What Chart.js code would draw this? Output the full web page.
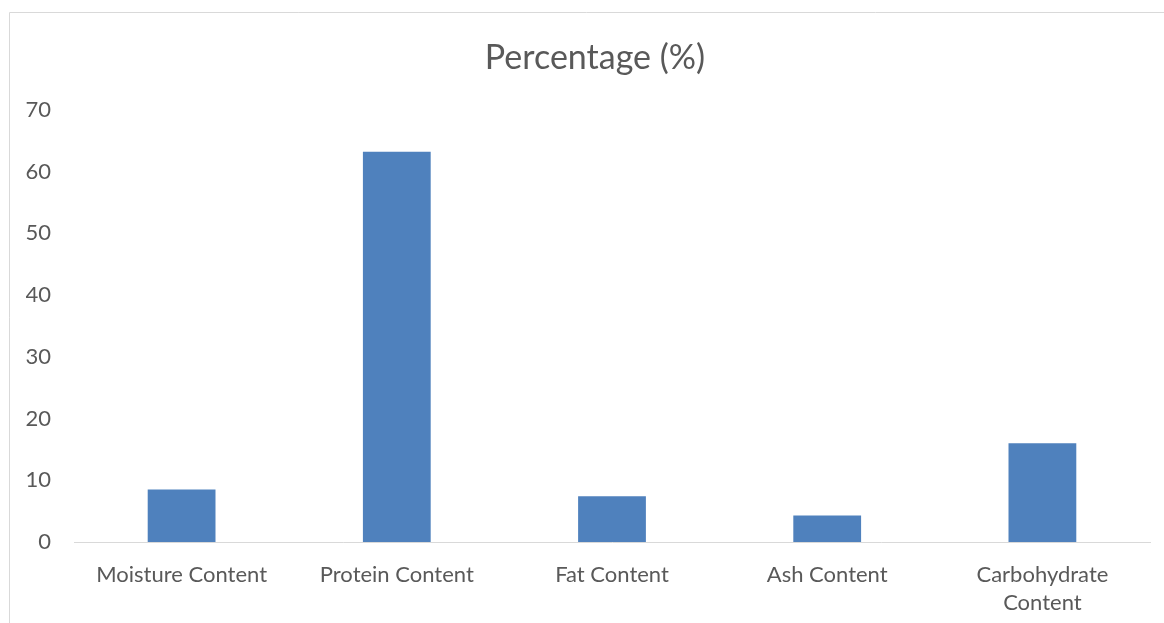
<!DOCTYPE html>
<html>
<head>
<meta charset="utf-8">
<script src="https://cdn.jsdelivr.net/npm/chart.js@4"></script>
<style>
html,body{margin:0;padding:0;background:#fff;}
#wrap{position:relative;width:1164px;height:623px;}
</style>
</head>
<body>
<div id="wrap"><canvas id="c" width="1164" height="623"></canvas></div>
<script>
const categories = ['Moisture Content', 'Protein Content', 'Fat Content', 'Ash Content', ['Carbohydrate', 'Content']];
const percentages = [8.5, 63.2, 7.4, 4.3, 16.0];
const yTicks = [0, 10, 20, 30, 40, 50, 60, 70];
const titleText = 'Percentage (%)';

const textColor = '#595959';
const fontFamily = 'Lato, Carlito, Calibri, sans-serif';

const outerBorder = {
  id: 'outerBorder',
  beforeDraw(chart) {
    const ctx = chart.ctx;
    ctx.save();
    ctx.strokeStyle = '#d9d9d9';
    ctx.lineWidth = 1;
    ctx.beginPath();
    ctx.moveTo(9.5, chart.height);
    ctx.lineTo(9.5, 12.5);
    ctx.lineTo(chart.width, 12.5);
    ctx.stroke();
    ctx.restore();
  }
};

function draw() {
  new Chart(document.getElementById('c'), {
    type: 'bar',
    data: {
      labels: categories,
      datasets: [{
        label: titleText,
        data: percentages,
        backgroundColor: '#4f81bd',
        borderWidth: 0,
        barPercentage: 0.315,
        categoryPercentage: 1
      }]
    },
    options: {
      responsive: false,
      animation: false,
      layout: { padding: { left: 26, right: 0, top: 0, bottom: 0 } },
      plugins: {
        legend: { display: false },
        tooltip: { enabled: false },
        title: {
          display: true,
          text: titleText,
          color: textColor,
          font: { family: fontFamily, size: 34, weight: 'normal', lineHeight: 1.2 },
          padding: { top: 38, bottom: 31 }
        }
      },
      scales: {
        x: {
          grid: { display: false, drawTicks: false },
          border: { display: true, color: '#d9d9d9', width: 1 },
          afterFit(scale) { scale.height = 81; },
          ticks: {
            color: textColor,
            font: { family: fontFamily, size: 22, lineHeight: 1.27 },
            padding: 19,
            maxRotation: 0,
            autoSkip: false
          }
        },
        y: {
          min: 0,
          max: 70,
          afterBuildTicks(scale) { scale.ticks = yTicks.map(v => ({ value: v })); },
          afterFit(scale) { scale.width = 48; },
          grid: { display: false, drawTicks: false },
          border: { display: false },
          ticks: {
            color: textColor,
            font: { family: fontFamily, size: 22 },
            padding: 23
          }
        },
        yRight: {
          position: 'right',
          min: 0,
          max: 70,
          afterFit(scale) { scale.width = 14; },
          grid: { display: false, drawTicks: false },
          border: { display: false },
          ticks: { display: false }
        }
      }
    },
    plugins: [outerBorder]
  });
}

if (document.fonts && document.fonts.load) {
  document.fonts.load('22px Lato').then(draw, draw);
} else {
  draw();
}
</script>
</body>
</html>
